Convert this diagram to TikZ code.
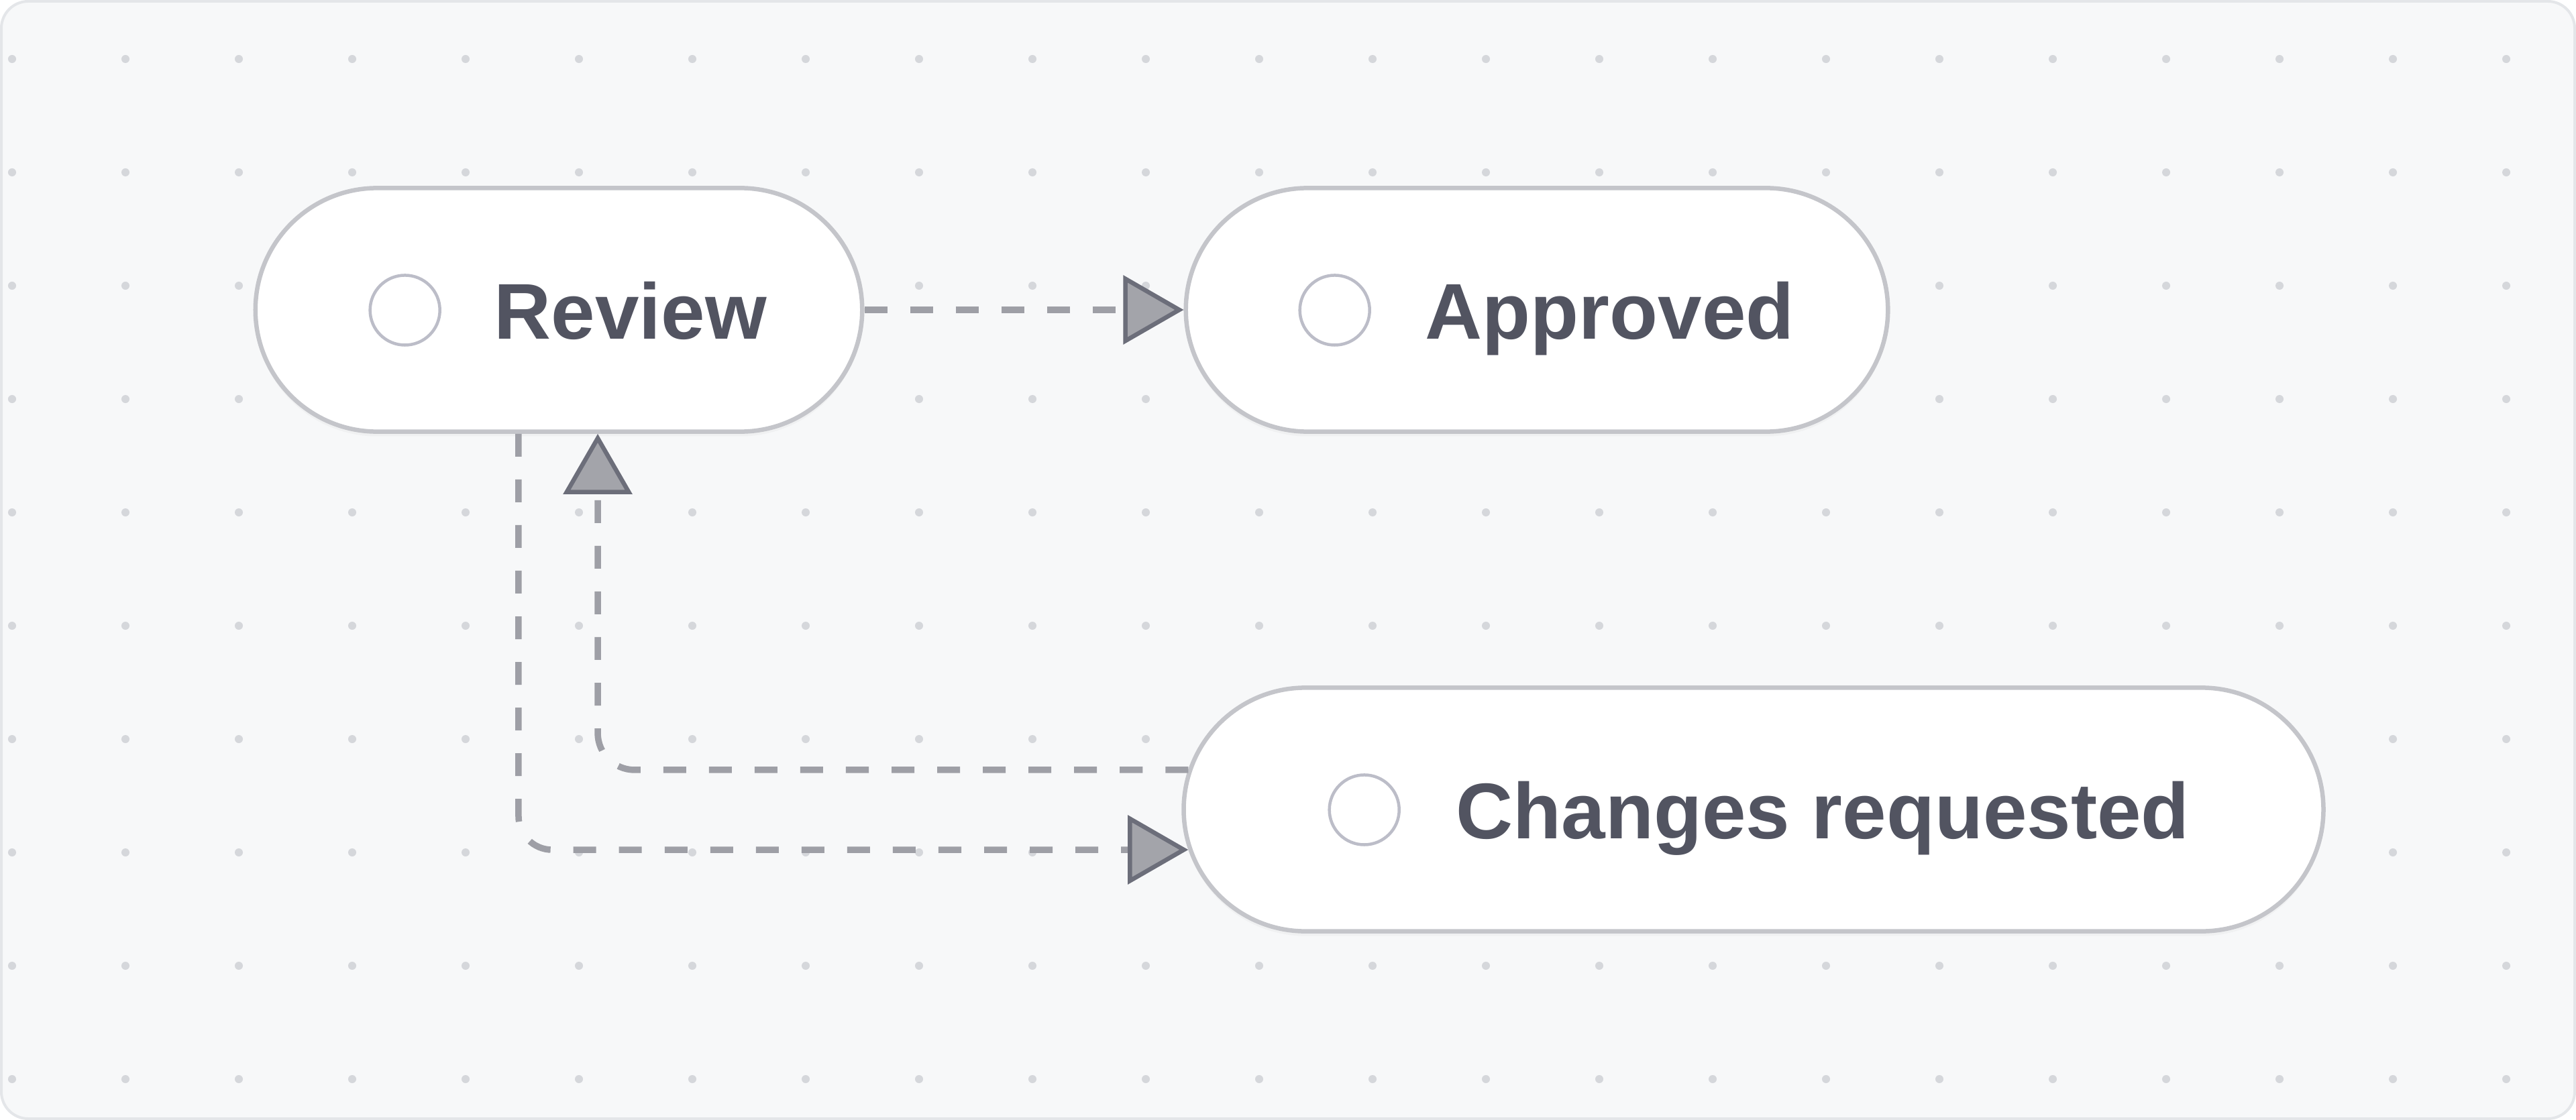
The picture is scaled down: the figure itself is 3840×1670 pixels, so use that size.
\documentclass[tikz,border=0pt]{standalone}
\usepackage{fontspec}
\setmainfont{Liberation Sans}
\usetikzlibrary{positioning,arrows.meta,calc,shadows}
\definecolor{CanvasGrey}{RGB}{247,248,249}
\definecolor{CanvasEdge}{RGB}{228,230,233}
\definecolor{GridDot}{RGB}{213,215,219}
\definecolor{PillEdge}{RGB}{196,197,202}
\definecolor{StateText}{RGB}{82,84,97}
\definecolor{RingGrey}{RGB}{188,189,200}
\definecolor{LinkGrey}{RGB}{158,159,166}
\definecolor{TipFill}{RGB}{163,164,170}
\definecolor{TipEdge}{RGB}{108,110,122}
\tikzset{
  pill/.style={draw=PillEdge,fill=white,line width=0.065cm,rounded corners=1.815cm,
    minimum height=3.63cm,inner sep=0pt,
    drop shadow={shadow xshift=0cm,shadow yshift=-0.07cm,opacity=0.05}},
  ring/.style={circle,draw=RingGrey,line width=0.045cm,minimum size=1.04cm,inner sep=0pt},
  statetext/.style={text=StateText,font=\bfseries\fontsize{33.5}{40}\selectfont,
    inner sep=0pt,text height=0.85cm,text depth=0pt,anchor=base west},
  link/.style={-{Triangle[length=0.9cm,width=1.02cm,color=TipEdge,fill=TipFill,line width=0.065cm]},
    draw=LinkGrey,line width=0.095cm,dash pattern=on 0.34cm off 0.34cm}
}
\begin{document}
\begin{tikzpicture}[x=0.01cm,y=-0.01cm]
  \useasboundingbox (0,0) rectangle (3840,1670);
  \draw[fill=CanvasGrey,draw=CanvasEdge,line width=0.04cm,rounded corners=0.4cm] (2,2) rectangle (3838,1668);
  \foreach \i in {0,...,22}
    \foreach \j in {0,...,9}
      \fill[GridDot] (18+169*\i,88+169*\j) circle (0.06cm);
  \node[pill,minimum width=9.04cm] (review) at (833,462) {};
  \node[pill,minimum width=10.46cm] (approved) at (2291,462) {};
  \node[pill,minimum width=16.98cm] (changes) at (2614,1207) {};
  \node[statetext] (reviewtxt) at (736,505) {Review};
  \node[statetext] (approvedtxt) at (2124,505) {Approved};
  \node[statetext] (changestxt) at (2170,1250) {Changes requested};
  \node[ring,left=0.78cm of reviewtxt] (reviewring) {};
  \node[ring,left=0.8cm of approvedtxt] (approvedring) {};
  \node[ring,left=0.82cm of changestxt] (changesring) {};
  \draw[link] (review) -- (approved);
  \draw[link,rounded corners=0.5cm] ([xshift=-0.6cm]review.south) |- ($(changes.west)+(0.1cm,-0.6cm)$);
  \draw[link,rounded corners=0.55cm] ($(changes.west)+(0.1cm,0.59cm)$) -| ([xshift=0.58cm]review.south);
\end{tikzpicture}
\end{document}
